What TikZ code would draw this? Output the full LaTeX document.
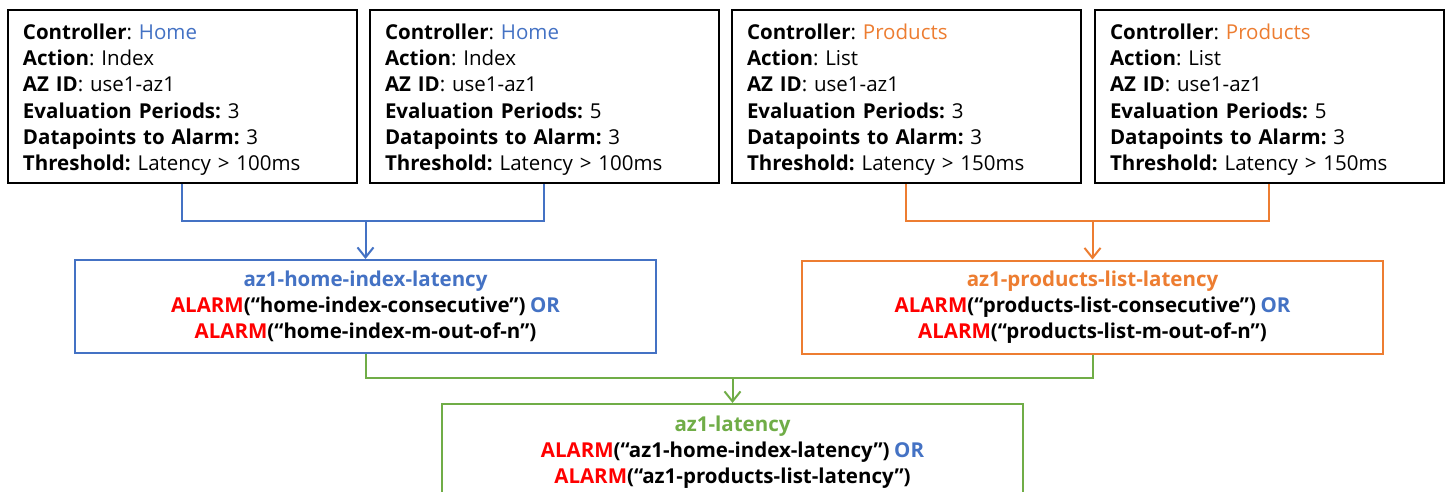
\documentclass[tikz,border=0pt]{standalone}
\usepackage{fontspec}
\setmainfont{Open Sans}[WordSpace=0.85]
\frenchspacing
\usetikzlibrary{arrows.meta}
\definecolor{cblue}{HTML}{4472C4}
\definecolor{corange}{HTML}{ED7D31}
\definecolor{cgreen}{HTML}{70AD47}
\definecolor{cred}{HTML}{FF0000}
\newcommand{\toppad}{\rule{0pt}{22pt}}
\begin{document}
\begin{tikzpicture}[x=1pt,y=-1pt,
 srcbox/.style={draw=black, line width=2pt, minimum width=349pt, minimum height=173pt, text width=318pt, align=left, inner sep=0pt, font=\fontsize{20.5}{26.2}\selectfont\frenchspacing},
 alarmbox/.style={draw=#1, line width=2pt, minimum width=581pt, minimum height=93pt, align=center, inner sep=0pt, font=\fontsize{20.5}{26}\selectfont\frenchspacing},
 link/.style={draw=#1, line width=2pt},
 tip/.style={-{Straight Barb[length=10pt,width=16pt,line width=2pt]}}]
\useasboundingbox (0,0) rectangle (1449,491);
\clip (0,0) rectangle (1449,491);
\fill[white] (0,0) rectangle (1449,491);

\node[srcbox] (b1) at (182,96.5) {\toppad\textbf{Controller}: \textcolor{cblue}{Home}\\
\textbf{Action}: Index\\
\textbf{AZ ID}: use1-az1\\
\textbf{Evaluation Periods:} 3\\
\textbf{Datapoints to Alarm:} 3\\
\textbf{Threshold:} Latency > 100ms};
\node[srcbox] (b2) at (544,96.5) {\toppad\textbf{Controller}: \textcolor{cblue}{Home}\\
\textbf{Action}: Index\\
\textbf{AZ ID}: use1-az1\\
\textbf{Evaluation Periods:} 5\\
\textbf{Datapoints to Alarm:} 3\\
\textbf{Threshold:} Latency > 100ms};
\node[srcbox] (b3) at (906,96.5) {\toppad\textbf{Controller}: \textcolor{corange}{Products}\\
\textbf{Action}: List\\
\textbf{AZ ID}: use1-az1\\
\textbf{Evaluation Periods:} 3\\
\textbf{Datapoints to Alarm:} 3\\
\textbf{Threshold:} Latency > 150ms};
\node[srcbox] (b4) at (1269,96.5) {\toppad\textbf{Controller}: \textcolor{corange}{Products}\\
\textbf{Action}: List\\
\textbf{AZ ID}: use1-az1\\
\textbf{Evaluation Periods:} 5\\
\textbf{Datapoints to Alarm:} 3\\
\textbf{Threshold:} Latency > 150ms};

\node[alarmbox=cblue] (hb) at (365.5,306.5) {\textbf{\textcolor{cblue}{az1-home-index-latency}}\\
\textbf{\textcolor{cred}{ALARM}(“home-index-consecutive”) \textcolor{cblue}{OR}}\\
\textbf{\textcolor{cred}{ALARM}(“home-index-m-out-of-n”)}};
\node[alarmbox=corange] (pb) at (1092.5,307) {\textbf{\textcolor{corange}{az1-products-list-latency}}\\
\textbf{\textcolor{cred}{ALARM}(“products-list-consecutive”) \textcolor{cblue}{OR}}\\
\textbf{\textcolor{cred}{ALARM}(“products-list-m-out-of-n”)}};
\node[alarmbox=cgreen, anchor=north, minimum height=96pt] (gb) at (732.5,403) {\textbf{\textcolor{cgreen}{az1-latency}}\\
\textbf{\textcolor{cred}{ALARM}(“az1-home-index-latency”) \textcolor{cblue}{OR}}\\
\textbf{\textcolor{cred}{ALARM}(“az1-products-list-latency”)}};

\coordinate (jh) at (365.5,221);
\coordinate (jp) at (1092.5,221);
\coordinate (jg) at (732.5,378);

\draw[link=cblue] (b1.south) |- (jh) -| (b2.south);
\draw[link=cblue, tip] (jh) -- (hb.north);
\draw[link=corange] (b3.south) |- (jp) -| (b4.south);
\draw[link=corange, tip] (jp) -- (pb.north);
\draw[link=cgreen] (hb.south) |- (jg) -| (pb.south);
\draw[link=cgreen, tip] (jg) -- (gb.north);
\end{tikzpicture}
\end{document}
